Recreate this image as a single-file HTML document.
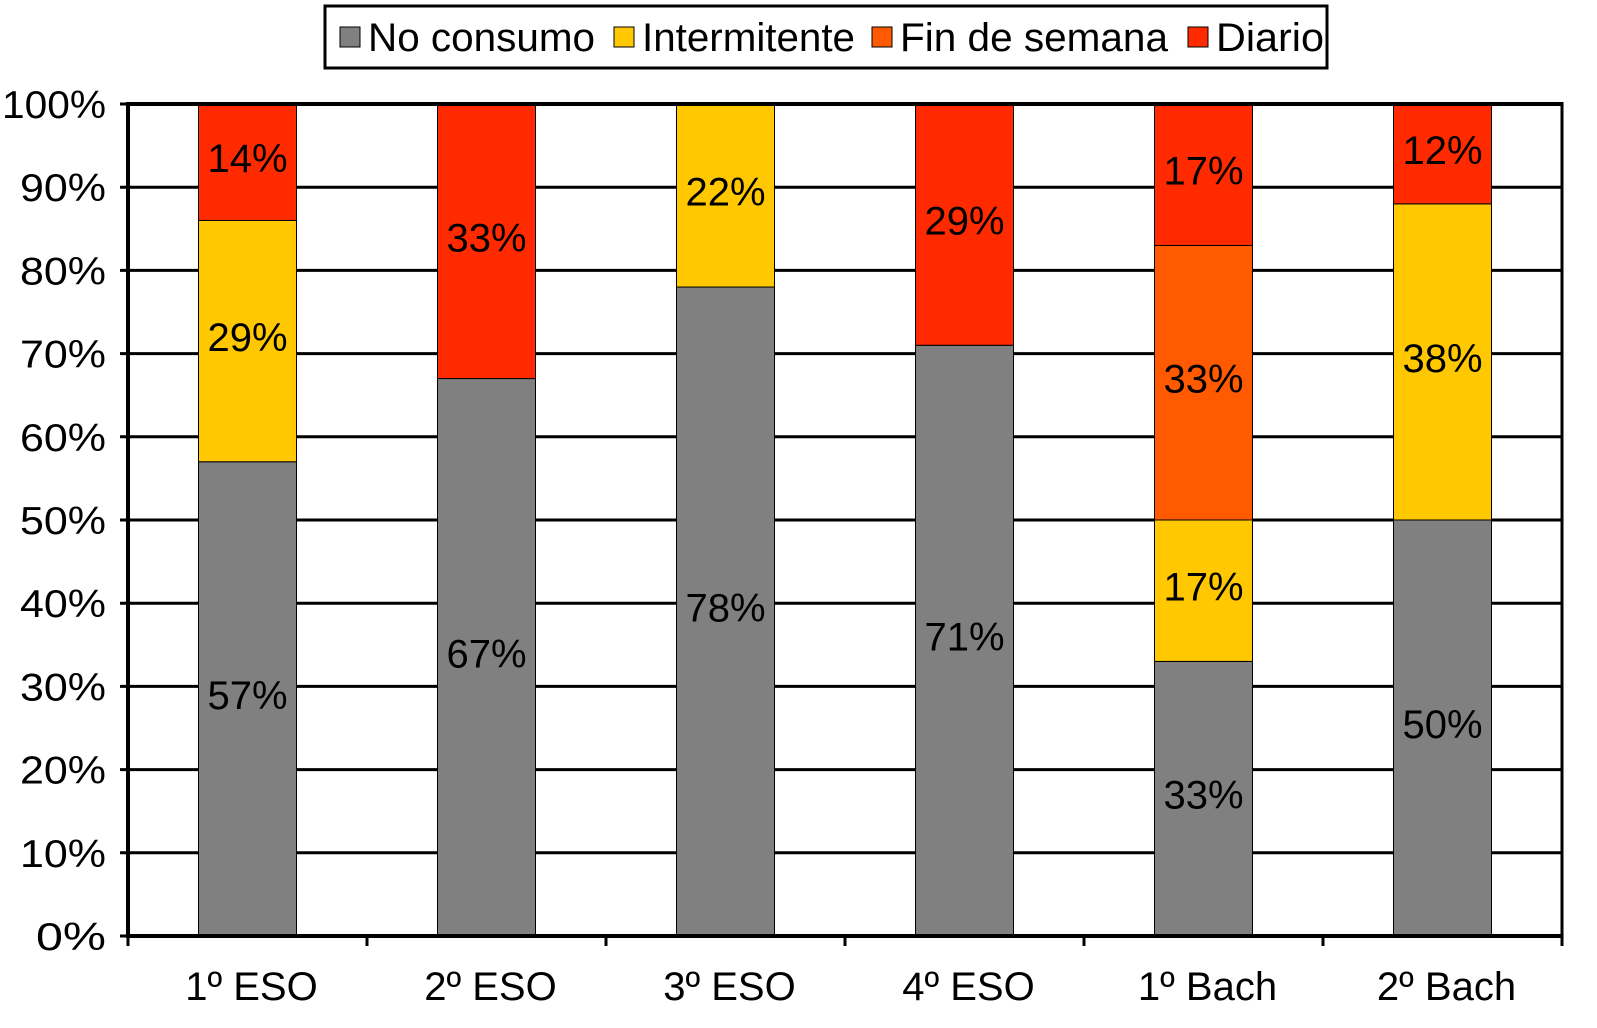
<!DOCTYPE html>
<html><head><meta charset="utf-8"><style>
body{margin:0;background:#fff;}
svg{display:block;font-family:"Liberation Sans",Arial,sans-serif;}
</style></head><body>
<svg id="chart" width="1597" height="1028"></svg>
<script>
const categories=["1º ESO","2º ESO","3º ESO","4º ESO","1º Bach","2º Bach"];
const noConsumo=[57,67,78,71,33,50];
const intermitente=[29,0,22,0,17,38];
const finSemana=[0,0,0,0,33,0];
const diario=[14,33,0,29,17,12];
const yTicks=[0,10,20,30,40,50,60,70,80,90,100];
const seriesNames=["No consumo","Intermitente","Fin de semana","Diario"];
const seriesColors=["#808080","#FFC800","#FF5A00","#FF2A00"];
const svg=document.getElementById('chart');
const NS='http://www.w3.org/2000/svg';
const L=128,R=1562,T=104,B=936;
const cw=(R-L)/categories.length, bw=98;
const y=v=>B-(B-T)*v/100;
const x=i=>L+cw*(i+0.5);
function mk(tag,attrs,parent){const e=document.createElementNS(NS,tag);for(const k in attrs)e.setAttribute(k,attrs[k]);(parent||svg).appendChild(e);return e;}
yTicks.forEach(t=>{
  const g=mk('line',{x1:L-8,x2:R,y1:y(t),y2:y(t),stroke:'#000','stroke-width':3});
  
  
  const tx=mk('text',{x:106,y:y(t)+14,'text-anchor':'end','font-size':39,'textLength':t===100?104:(t===0?70:86),'lengthAdjust':'spacingAndGlyphs'});
  tx.textContent=t+'%';
  
  
});
const all=[noConsumo,intermitente,finSemana,diario];
categories.forEach((c,i)=>{
  let base=0;
  all.forEach((s,si)=>{
    const v=s[i]; if(!v) return;
    const r=mk('rect',{x:x(i)-bw/2,y:y(base+v),width:bw,height:y(base)-y(base+v),fill:seriesColors[si],stroke:'#000','stroke-width':1});
    
    
    const t=mk('text',{x:x(i),y:y(base+v/2)+10,'text-anchor':'middle','font-size':40});
    t.textContent=v+'%';
    
    
    base+=v;
  });
  const lab=mk('text',{x:x(i)+4,y:1000,'text-anchor':'middle','font-size':40});
  lab.textContent=c;
  
  
});
mk('line',{x1:L,x2:L,y1:T-2,y2:B+2,stroke:'#000','stroke-width':4});
mk('line',{x1:R,x2:R,y1:T-2,y2:B+2,stroke:'#000','stroke-width':3});
mk('line',{x1:L,x2:R,y1:T,y2:T,stroke:'#000','stroke-width':4});
mk('line',{x1:L,x2:R,y1:B,y2:B,stroke:'#000','stroke-width':4});
for(let i=0;i<=categories.length;i++){mk('line',{x1:L+cw*i,x2:L+cw*i,y1:B,y2:B+10,stroke:'#000','stroke-width':3});}
const lg=mk('g',{});


mk('rect',{x:325,y:6,width:1002,height:62,fill:'#fff',stroke:'#000','stroke-width':3},lg);
const lx=[340,614,872,1188];
const lw=[227,213,268,108];
seriesNames.forEach((n,i)=>{
  const e=mk('g',{},lg);
  
  
  mk('rect',{x:lx[i],y:27,width:20,height:20,fill:seriesColors[i],stroke:'#000','stroke-width':1},e);
  const t=mk('text',{x:lx[i]+28,y:51,'font-size':40,'textLength':lw[i],'lengthAdjust':'spacingAndGlyphs'},e);
  t.textContent=n;
});
</script>
</body></html>
